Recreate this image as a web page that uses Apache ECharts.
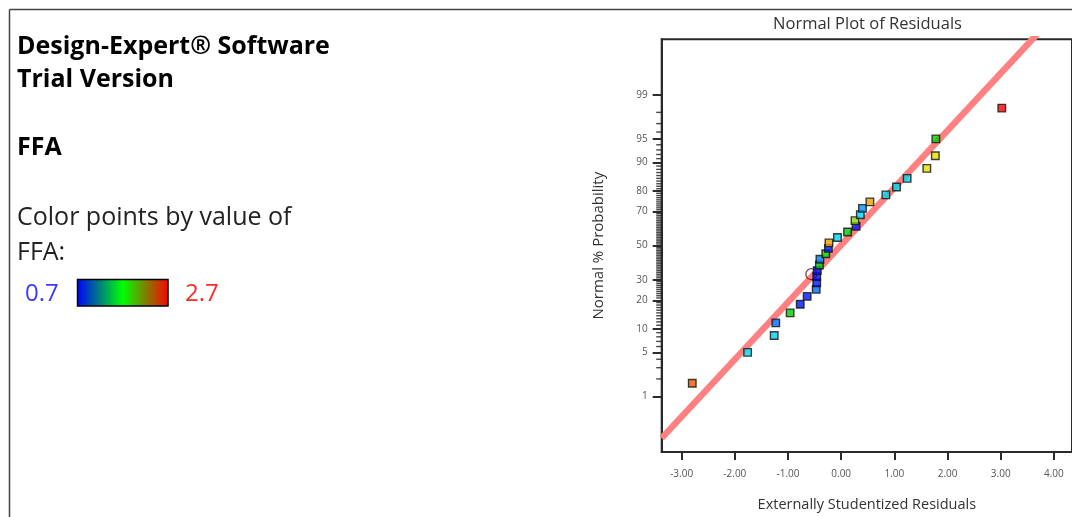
<!DOCTYPE html>
<html>
<head>
<meta charset="utf-8">
<script src="https://cdn.jsdelivr.net/npm/echarts@6/dist/echarts.min.js"></script>
<style>
html,body{margin:0;padding:0;background:#fff;}
#chart{width:1072px;height:517px;}
</style>
</head>
<body>
<div id="chart"></div>
<script>
// ---- data ----
const residuals = [-2.80,-1.76,-1.26,-1.23,-0.96,-0.77,-0.64,-0.47,-0.46,-0.46,-0.45,-0.41,-0.40,-0.29,-0.24,-0.23,-0.07,0.12,0.28,0.26,0.36,0.40,0.54,0.84,1.04,1.24,1.61,1.77,1.78,3.02];
const probabilities = [1.7,5.0,8.3,11.7,15.0,18.3,21.7,25.0,28.3,31.7,35.0,38.3,41.7,45.0,48.3,51.7,55.0,58.3,61.7,65.0,68.3,71.7,75.0,78.3,81.7,85.0,88.3,91.7,95.0,98.3];
const ffaValues = [2.5,1.2,1.2,0.95,1.7,0.75,0.75,0.95,0.75,0.72,0.75,1.65,1.0,1.7,0.75,2.35,1.2,1.7,0.75,2.0,1.2,1.05,2.35,1.2,1.2,1.2,2.2,2.2,1.7,2.7];
const highlightedResidual = [-0.56];
const highlightedProbability = [33.0];
const refLineSlope = 0.882;      // z per residual unit
const refLineIntercept = 0.01;
const xTicks = [-3,-2,-1,0,1,2,3,4];
const probTicks = [1,5,10,20,30,50,70,80,90,95,99];
const ffaRange = [0.7, 2.7];
const xRange = [-3.375, 4.34];
const zLimit = 3.18;

// inverse normal CDF (Acklam) - the probability scale
function normInv(p){
  const a=[-3.969683028665376e+01,2.209460984245205e+02,-2.759285104469687e+02,1.383577518672690e+02,-3.066479806614716e+01,2.506628277459239e+00];
  const b=[-5.447609879822406e+01,1.615858368580409e+02,-1.556989798598866e+02,6.680131188771972e+01,-1.328068155288572e+01];
  const c=[-7.784894002430293e-03,-3.223964580411365e-01,-2.400758277161838e+00,-2.549732539343734e+00,4.374664141464968e+00,2.938163982698783e+00];
  const d=[7.784695709041462e-03,3.224671290700398e-01,2.445134137142996e+00,3.754408661907416e+00];
  const pl=0.02425, ph=1-pl; let q,r;
  if(p<pl){q=Math.sqrt(-2*Math.log(p));return (((((c[0]*q+c[1])*q+c[2])*q+c[3])*q+c[4])*q+c[5])/((((d[0]*q+d[1])*q+d[2])*q+d[3])*q+1);}
  if(p<=ph){q=p-0.5;r=q*q;return (((((a[0]*r+a[1])*r+a[2])*r+a[3])*r+a[4])*r+a[5])*q/(((((b[0]*r+b[1])*r+b[2])*r+b[3])*r+b[4])*r+1);}
  q=Math.sqrt(-2*Math.log(1-p));return -(((((c[0]*q+c[1])*q+c[2])*q+c[3])*q+c[4])*q+c[5])/((((d[0]*q+d[1])*q+d[2])*q+d[3])*q+1);
}
const zOf = pct => normInv(pct/100);

const minorProbTicks = [];
for (let k = 2; k <= 98; k++) if (probTicks.indexOf(k) < 0) minorProbTicks.push(k);

const pointData = residuals.map((r,i)=>[r, zOf(probabilities[i]), ffaValues[i], probabilities[i]]);
const circleData = highlightedResidual.map((r,i)=>[r, zOf(highlightedProbability[i])]);
const lineData = xRange.map(x=>[x, refLineSlope*x + refLineIntercept]);
const minorTickData = minorProbTicks.map(p=>[xRange[0], zOf(p)]);

const majorZ = probTicks.map(zOf);

const FONT = "'Open Sans', 'Noto Sans', sans-serif";

const chart = echarts.init(document.getElementById('chart'), null, {renderer:'canvas'});
chart.setOption({
  animation:false,
  backgroundColor:'#fff',
  grid:{left:661.7, top:39.3, bottom:64.7, right:-2, show:true, borderColor:'#2a2a2a', borderWidth:2, containLabel:false},
  xAxis:{
    type:'value', min:xRange[0], max:xRange[1],
    name:'Externally Studentized Residuals', nameLocation:'middle', nameGap:45,
    nameTextStyle:{fontFamily:FONT, fontSize:14.5, color:'#333'},
    axisLine:{show:true, onZero:false, lineStyle:{color:'#2a2a2a', width:2}},
    axisTick:{show:true, customValues:xTicks, length:8, lineStyle:{color:'#2a2a2a', width:2}},
    axisLabel:{customValues:xTicks, margin:17, fontSize:10, color:'#555', fontFamily:FONT, formatter:v=>v.toFixed(2)},
    splitLine:{show:false}
  },
  yAxis:{
    type:'value', min:-zLimit, max:zLimit, position:'left',
    name:'Normal % Probability', nameLocation:'middle', nameGap:55, nameRotate:90,
    nameTextStyle:{fontFamily:FONT, fontSize:15, color:'#333'},
    axisLine:{show:true, onZero:false, lineStyle:{color:'#2a2a2a', width:2}},
    axisTick:{show:true, customValues:majorZ, length:9, lineStyle:{color:'#2a2a2a', width:2}},
    axisLabel:{customValues:majorZ, margin:14, fontSize:10, color:'#555', fontFamily:FONT,
      formatter:v=>{let best=0,bd=1e9;majorZ.forEach((z,i)=>{const dd=Math.abs(z-v);if(dd<bd){bd=dd;best=i;}});return String(probTicks[best]);}},
    splitLine:{show:false}
  },
  visualMap:{
    show:false, type:'continuous', min:ffaRange[0], max:ffaRange[1], dimension:2, seriesIndex:3,
    inRange:{color:['#0000ff','#00d4ee','#00cc00','#e0e000','#ff0000']}
  },
  series:[{
    type:'scatter', data:minorTickData, silent:true, clip:false, z:5,
    symbol:'rect', symbolSize:[5,1.4], symbolOffset:[-3,0],
    itemStyle:{color:'#1a1a1a', borderWidth:0}
  },{
    type:'line', data:lineData, symbol:'none', silent:true, clip:true, z:1,
    lineStyle:{color:'#ff8080', width:6.5}
  },{
    type:'scatter', data:circleData, symbol:'circle', symbolSize:11, z:2, silent:true,
    itemStyle:{color:'rgba(0,0,0,0)', borderColor:'#5a1a1a', borderWidth:1.3}
  },{
    type:'scatter', data:pointData, symbol:'rect', symbolSize:7.5, z:3,
    itemStyle:{borderColor:'#111', borderWidth:1.4}
  }],
  graphic:[
    {type:'line', shape:{x1:9.5,y1:9.5,x2:1072,y2:9.5}, style:{stroke:'#444', lineWidth:1.5}, silent:true},
    {type:'line', shape:{x1:9.5,y1:9.5,x2:9.5,y2:517}, style:{stroke:'#444', lineWidth:1.5}, silent:true},
    {type:'text', x:867.5, y:24, style:{text:'Normal Plot of Residuals', font:"16.5px "+FONT, fill:'#333', textAlign:'center', textVerticalAlign:'middle'}},
    {type:'text', x:17, y:47, style:{text:'Design-Expert® Software', font:"bold 25px "+FONT, fill:'#000', textVerticalAlign:'middle'}},
    {type:'text', x:17, y:80, style:{text:'Trial Version', font:"bold 25px "+FONT, fill:'#000', textVerticalAlign:'middle'}},
    {type:'text', x:17, y:148, style:{text:'FFA', font:"bold 25px "+FONT, fill:'#000', textVerticalAlign:'middle'}},
    {type:'text', x:17, y:218, style:{text:'Color points by value of', font:"25px "+FONT, fill:'#222', textVerticalAlign:'middle'}},
    {type:'text', x:17, y:253, style:{text:'FFA:', font:"25px "+FONT, fill:'#222', textVerticalAlign:'middle'}},
    {type:'text', x:25, y:294, style:{text:String(ffaRange[0]), font:"24px "+FONT, fill:'#3b3bff', textVerticalAlign:'middle'}},
    {type:'text', x:185, y:294, style:{text:String(ffaRange[1]), font:"24px "+FONT, fill:'#ff2a2a', textVerticalAlign:'middle'}},
    {type:'rect', shape:{x:77.5, y:279.5, width:90.5, height:26.5},
      style:{stroke:'#000', lineWidth:1.5,
        fill:new echarts.graphic.LinearGradient(0,0,1,0,[{offset:0,color:'#0000ff'},{offset:0.5,color:'#00ff00'},{offset:1,color:'#ff0000'}])}}
  ]
});
</script>
</body>
</html>
